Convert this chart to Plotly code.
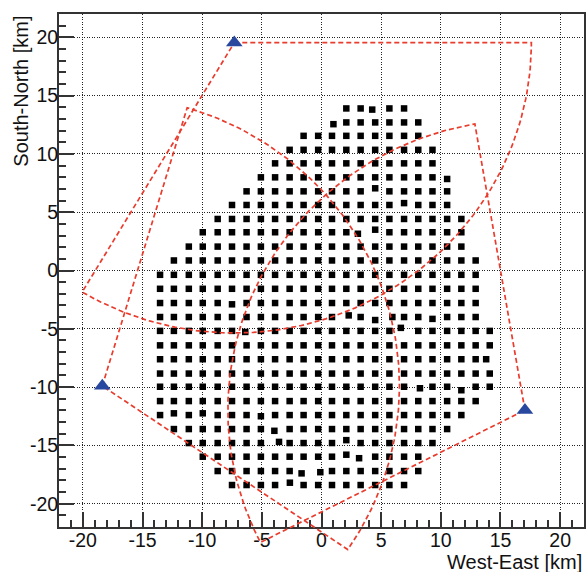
import numpy as np
import plotly.graph_objects as go

# ---------------- data ----------------
# Surface-detector grid: column x positions [km] and row y positions [km]
X_COLS = [-13.53, -12.37, -11.12, -9.95, -8.70, -7.50, -6.28, -5.08, -3.89, -2.67,
          -1.50, -0.28, 0.88, 2.08, 3.28, 4.50, 5.69, 6.92, 8.11, 9.30,
          10.53, 11.72, 12.92, 14.10]
Y_ROWS = [13.90, 12.70, 11.55, 10.35, 9.19, 7.99, 6.79, 5.62, 4.42, 3.28,
          2.05, 0.86, -0.37, -1.57, -2.79, -3.99, -5.18, -6.42, -7.61, -8.84,
          -9.97, -11.20, -12.40, -13.60, -14.80, -15.97, -17.20, -18.40]
# first / last occupied column index for every row
ROW_FIRST_COL = [13, 12, 10, 9, 8, 7, 6, 5, 4, 3, 2, 1, 0, 0, 0, 0, 0, 0, 0, 0,
                 0, 0, 0, 1, 2, 3, 4, 5]
ROW_LAST_COL = [17, 18, 18, 19, 19, 20, 20, 20, 21, 21, 21, 22, 22, 22, 22, 22,
                23, 23, 23, 23, 23, 22, 21, 20, 19, 18, 18, 17]
# stations that sit visibly off the regular grid: (row, col) -> (x, y)
DISPLACED = {
    (0, 15): (4.25, 13.80),
    (1, 12): (1.00, 12.55),
    (5, 20): (10.53, 7.85),
    (6, 15): (4.50, 7.05),
    (7, 17): (6.92, 5.78),
    (9, 14): (3.05, 3.15),
    (9, 15): (4.50, 3.50),
    (14, 5): (-7.50, -2.90),
    (15, 13): (2.28, -3.85),
    (15, 15): (4.50, -4.25),
    (15, 16): (5.94, -3.99),
    (15, 19): (9.30, -4.15),
    (16, 6): (-6.39, -5.27),
    (16, 17): (6.65, -4.92),
    (18, 23): (13.80, -7.61),
    (20, 18): (8.25, -10.10),
    (20, 21): (11.72, -10.27),
    (22, 1): (-12.37, -12.25),
    (22, 3): (-9.95, -12.25),
    (22, 7): (-5.08, -12.50),
    (23, 8): (-3.95, -13.75),
    (24, 8): (-3.56, -14.70),
    (24, 13): (2.08, -14.55),
    (25, 13): (2.08, -15.80),
    (25, 14): (3.15, -16.10),
    (26, 10): (-1.67, -17.40),
    (26, 11): (-0.10, -17.30),
    (27, 9): (-2.65, -18.20),
}

# Fluorescence-detector sites and their field-of-view fans
SITE_X = [-7.31, -18.37, 17.05]
SITE_Y = [19.54, -9.90, -11.98]
FOV_START_DEG = [0.0, 73.4, 99.7]
FOV_END_DEG = [-120.8, -34.3, 207.1]
FOV_RANGE_KM = [24.9, 24.9, 24.9]

TICKS = [-20, -15, -10, -5, 0, 5, 10, 15, 20]
TICK_TEXT = [str(t) for t in TICKS]
X_TITLE = "West-East [km]"
Y_TITLE = "South-North [km]"

# ---------------- build marks ----------------
st_x, st_y = [], []
for r, yrow in enumerate(Y_ROWS):
    for c in range(ROW_FIRST_COL[r], ROW_LAST_COL[r] + 1):
        if (r, c) in DISPLACED:
            xx, yy = DISPLACED[(r, c)]
        else:
            xx, yy = X_COLS[c], yrow
        st_x.append(xx)
        st_y.append(yy)

fig = go.Figure()
fig.add_trace(go.Scatter(x=st_x, y=st_y, mode="markers",
                         marker=dict(symbol="square", size=6.5, color="black"),
                         xaxis="x", yaxis="y", hoverinfo="skip"))

for sx, sy, a0, a1, rr in zip(SITE_X, SITE_Y, FOV_START_DEG, FOV_END_DEG, FOV_RANGE_KM):
    ang = np.radians(np.linspace(a0, a1, 120))
    fx = np.concatenate([[sx], sx + rr * np.cos(ang), [sx]])
    fy = np.concatenate([[sy], sy + rr * np.sin(ang), [sy]])
    fig.add_trace(go.Scatter(x=fx, y=fy, mode="lines",
                             line=dict(color="rgb(233,60,45)", width=1.7, dash="5px,3px"),
                             xaxis="x2", yaxis="y2", hoverinfo="skip"))

fig.add_trace(go.Scatter(x=SITE_X, y=SITE_Y, mode="markers",
                         marker=dict(symbol="triangle-up", size=14.5, color="rgb(40,72,160)"),
                         xaxis="x2", yaxis="y2", hoverinfo="skip"))

# ---------------- layout ----------------
W, H = 587, 572
ML, MR, MT, MB = 59, 1, 14, 12
FRAME_BOTTOM_PX = 527
paper_h = H - MT - MB
dom0 = (H - MB - FRAME_BOTTOM_PX) / paper_h
y2_low = -22 - (H - MB - FRAME_BOTTOM_PX) * 44.0 / (FRAME_BOTTOM_PX - MT)

FONT = "Liberation Sans, Arial, Helvetica, sans-serif"
axcol = "#333333"
common = dict(
    tickmode="array", tickvals=TICKS, ticktext=TICK_TEXT,
    ticks="inside", ticklen=15, tickwidth=1.5, tickcolor=axcol,
    minor=dict(dtick=1, tick0=0, ticks="inside", ticklen=7, tickwidth=1.5,
               tickcolor=axcol, showgrid=False),
    showgrid=True, gridcolor="#222222", gridwidth=1.2, griddash="1px,1.5px",
    zeroline=False, showline=True, linecolor=axcol, linewidth=2, mirror=True,
    tickfont=dict(family=FONT, size=19.5, color="#111111"),
    ticklabelstandoff=-5,
    range=[-22, 22], fixedrange=True,
)
fig.update_layout(
    width=W, height=H,
    margin=dict(l=ML, r=MR, t=MT, b=MB),
    paper_bgcolor="white", plot_bgcolor="rgba(0,0,0,0)",
    showlegend=False,
    xaxis=dict(domain=[0, 1], anchor="y", **common),
    yaxis=dict(domain=[dom0, 1], anchor="x", **common),
    xaxis2=dict(domain=[0, 1], anchor="y2", range=[-22, 22], visible=False, fixedrange=True),
    yaxis2=dict(domain=[0, 1], anchor="x2", range=[y2_low, 22], visible=False, fixedrange=True),
    annotations=[
        dict(text=Y_TITLE, textangle=-90, xref="paper", yref="paper",
             x=(20 - ML) / (W - ML - MR), y=1.0, xanchor="center", yanchor="top",
             showarrow=False, font=dict(family=FONT, size=20, color="#111111")),
        dict(text=X_TITLE, xref="paper", yref="paper",
             x=1.0, y=(H - MB - 562) / paper_h, xanchor="right", yanchor="middle",
             showarrow=False, font=dict(family=FONT, size=20, color="#111111")),
    ],
)

fig.write_html("out.html")
